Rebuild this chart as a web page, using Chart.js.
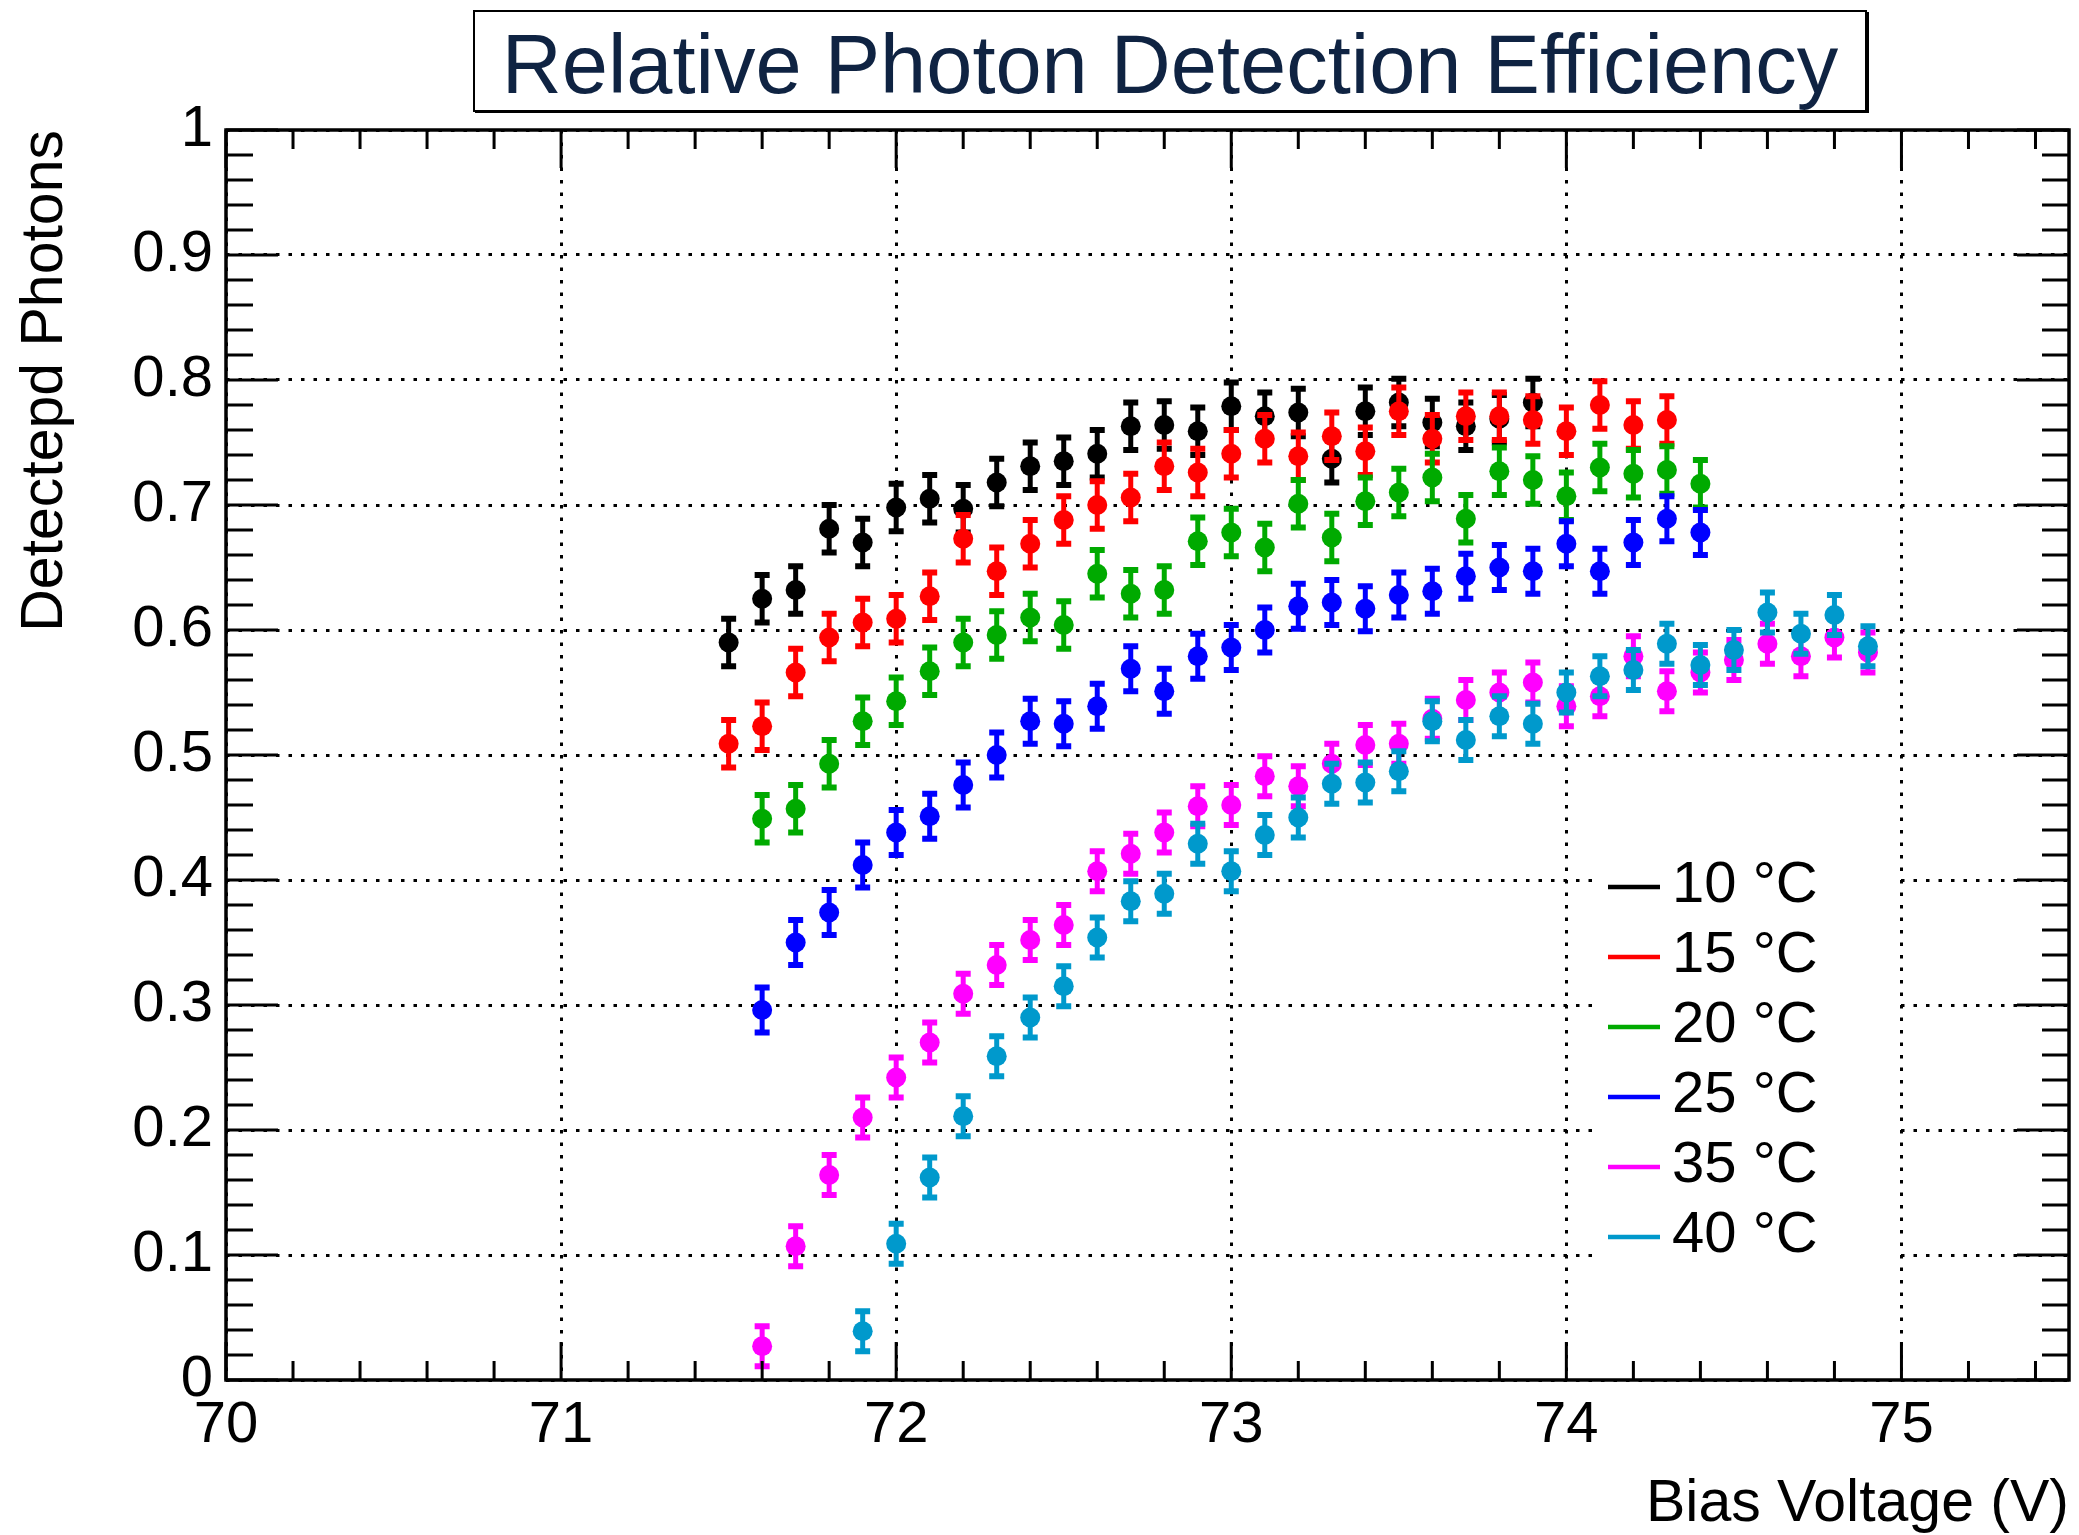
<!DOCTYPE html>
<html>
<head>
<meta charset="utf-8">
<title>Relative Photon Detection Efficiency</title>
<script src="https://cdn.jsdelivr.net/npm/chart.js@4.4.1/dist/chart.umd.min.js"></script>
<style>
    html, body { margin: 0; padding: 0; background: #ffffff; }
    #wrap { width: 2079px; height: 1535px; }
</style>
</head>
<body>
<div id="wrap"><canvas id="grafico" width="2079" height="1535"></canvas></div>
<script>
// tensões (V) de cada série
const tensao10 = [71.5, 71.6, 71.7, 71.8, 71.9, 72.0, 72.1, 72.2, 72.3, 72.4, 72.5, 72.6, 72.7, 72.8, 72.9, 73.0, 73.1, 73.2, 73.3, 73.4, 73.5, 73.6, 73.7, 73.8, 73.9];
const tensao15 = [71.5, 71.6, 71.7, 71.8, 71.9, 72.0, 72.1, 72.2, 72.3, 72.4, 72.5, 72.6, 72.7, 72.8, 72.9, 73.0, 73.1, 73.2, 73.3, 73.4, 73.5, 73.6, 73.7, 73.8, 73.9, 74.0, 74.1, 74.2, 74.3];
const tensao20 = [71.6, 71.7, 71.8, 71.9, 72.0, 72.1, 72.2, 72.3, 72.4, 72.5, 72.6, 72.7, 72.8, 72.9, 73.0, 73.1, 73.2, 73.3, 73.4, 73.5, 73.6, 73.7, 73.8, 73.9, 74.0, 74.1, 74.2, 74.3, 74.4];
const tensao25 = [71.6, 71.7, 71.8, 71.9, 72.0, 72.1, 72.2, 72.3, 72.4, 72.5, 72.6, 72.7, 72.8, 72.9, 73.0, 73.1, 73.2, 73.3, 73.4, 73.5, 73.6, 73.7, 73.8, 73.9, 74.0, 74.1, 74.2, 74.3, 74.4];
const tensao35 = [71.6, 71.7, 71.8, 71.9, 72.0, 72.1, 72.2, 72.3, 72.4, 72.5, 72.6, 72.7, 72.8, 72.9, 73.0, 73.1, 73.2, 73.3, 73.4, 73.5, 73.6, 73.7, 73.8, 73.9, 74.0, 74.1, 74.2, 74.3, 74.4, 74.5, 74.6, 74.7, 74.8, 74.9];
const tensao40 = [71.9, 72.0, 72.1, 72.2, 72.3, 72.4, 72.5, 72.6, 72.7, 72.8, 72.9, 73.0, 73.1, 73.2, 73.3, 73.4, 73.5, 73.6, 73.7, 73.8, 73.9, 74.0, 74.1, 74.2, 74.3, 74.4, 74.5, 74.6, 74.7, 74.8, 74.9];

// fótons detectados (relativo)
const fotons10 = [0.590, 0.625, 0.632, 0.681, 0.670, 0.698, 0.705, 0.697, 0.718, 0.731, 0.735, 0.741, 0.763, 0.764, 0.759, 0.779, 0.771, 0.774, 0.737, 0.775, 0.782, 0.766, 0.763, 0.769, 0.782];
const fotons15 = [0.509, 0.523, 0.566, 0.594, 0.606, 0.609, 0.627, 0.673, 0.647, 0.669, 0.688, 0.700, 0.706, 0.731, 0.726, 0.741, 0.753, 0.739, 0.755, 0.743, 0.775, 0.753, 0.771, 0.771, 0.768, 0.759, 0.780, 0.764, 0.768];
const fotons20 = [0.449, 0.457, 0.493, 0.527, 0.543, 0.567, 0.590, 0.596, 0.610, 0.604, 0.645, 0.629, 0.632, 0.671, 0.678, 0.666, 0.701, 0.674, 0.703, 0.710, 0.722, 0.689, 0.727, 0.720, 0.707, 0.730, 0.725, 0.728, 0.717];
const fotons25 = [0.296, 0.350, 0.374, 0.412, 0.438, 0.451, 0.476, 0.500, 0.527, 0.525, 0.539, 0.569, 0.551, 0.579, 0.586, 0.600, 0.619, 0.622, 0.617, 0.628, 0.631, 0.643, 0.650, 0.647, 0.669, 0.647, 0.670, 0.689, 0.678];
const fotons35 = [0.027, 0.107, 0.164, 0.210, 0.242, 0.270, 0.309, 0.332, 0.352, 0.364, 0.407, 0.421, 0.438, 0.459, 0.460, 0.483, 0.475, 0.493, 0.508, 0.509, 0.529, 0.544, 0.550, 0.558, 0.539, 0.547, 0.579, 0.551, 0.566, 0.576, 0.589, 0.579, 0.594, 0.582];
const fotons40 = [0.039, 0.109, 0.162, 0.211, 0.259, 0.290, 0.315, 0.354, 0.383, 0.389, 0.429, 0.407, 0.436, 0.450, 0.477, 0.478, 0.487, 0.527, 0.512, 0.531, 0.525, 0.550, 0.563, 0.568, 0.589, 0.572, 0.584, 0.614, 0.597, 0.612, 0.587];

const nomes = ['10 °C', '15 °C', '20 °C', '25 °C', '35 °C', '40 °C'];
const cores = ['#000000', '#ff0000', '#00aa00', '#0000ff', '#ff00ff', '#0099cc'];
const erros = [0.019, 0.019, 0.019, 0.018, 0.016, 0.016];

const ticksX = [70, 71, 72, 73, 74, 75];
const ticksY = [0, 0.1, 0.2, 0.3, 0.4, 0.5, 0.6, 0.7, 0.8, 0.9, 1];

const tensoes = [tensao10, tensao15, tensao20, tensao25, tensao35, tensao40];
const fotons = [fotons10, fotons15, fotons20, fotons25, fotons35, fotons40];

const fonte = '"Liberation Sans", Arial, Helvetica, sans-serif';

const datasets = nomes.map((nome, i) => ({
    label: nome,
    data: tensoes[i].map((v, j) => ({ x: v, y: fotons[i][j] })),
    backgroundColor: cores[i],
    borderColor: cores[i],
    borderWidth: 0,
    pointRadius: 10,
    pointHoverRadius: 10,
    showLine: false,
    order: nomes.length - i,
    erro: erros[i]
}));

// barras de erro, desenhadas antes dos pontos de cada série
const pluginErro = {
    id: 'barrasErro',
    beforeDatasetDraw(chart, args) {
        const ds = chart.data.datasets[args.index];
        const escalaY = chart.scales.y;
        const ctx = chart.ctx;
        ctx.save();
        ctx.strokeStyle = ds.borderColor;
        ctx.fillStyle = ds.borderColor;
        ctx.lineWidth = 5;
        args.meta.data.forEach((pt, j) => {
            const v = ds.data[j].y;
            const cima = escalaY.getPixelForValue(v + ds.erro);
            const baixo = escalaY.getPixelForValue(v - ds.erro);
            ctx.beginPath();
            ctx.moveTo(pt.x, cima);
            ctx.lineTo(pt.x, baixo);
            ctx.stroke();
            ctx.fillRect(pt.x - 7.5, cima - 3, 15, 6);
            ctx.fillRect(pt.x - 7.5, baixo - 3, 15, 6);
        });
        ctx.restore();
    }
};

// moldura e marcas dos eixos (estilo ROOT, para dentro)
const pluginMoldura = {
    id: 'moldura',
    afterDatasetsDraw(chart) {
        const { left, right, top, bottom } = chart.chartArea;
        const ex = chart.scales.x;
        const ey = chart.scales.y;
        const ctx = chart.ctx;
        ctx.save();
        ctx.strokeStyle = '#000';
        ctx.lineWidth = 3;
        ctx.beginPath();
        for (let k = 0; k <= 27; k++) {
            const px = ex.getPixelForValue(70 + k * 0.2);
            const t = k % 5 === 0 ? 38 : 19;
            ctx.moveTo(px, bottom);
            ctx.lineTo(px, bottom - t);
            ctx.moveTo(px, top);
            ctx.lineTo(px, top + t);
        }
        for (let k = 0; k <= 50; k++) {
            const py = ey.getPixelForValue(k * 0.02);
            const t = k % 5 === 0 ? 52 : 27;
            ctx.moveTo(left, py);
            ctx.lineTo(left + t, py);
            ctx.moveTo(right, py);
            ctx.lineTo(right - t, py);
        }
        ctx.stroke();
        ctx.lineWidth = 3.5;
        ctx.strokeRect(left, top, right - left, bottom - top);
        ctx.restore();
    }
};

const pluginLegenda = {
    id: 'legendaRoot',
    afterDatasetsDraw(chart) {
        const ctx = chart.ctx;
        ctx.save();
        ctx.fillStyle = '#ffffff';
        ctx.fillRect(1596, 850, 298, 420);
        ctx.font = '58px ' + fonte;
        ctx.textAlign = 'left';
        ctx.textBaseline = 'alphabetic';
        chart.data.datasets.forEach((ds, i) => {
            const y = 887 + i * 70;
            ctx.strokeStyle = ds.borderColor;
            ctx.lineWidth = 4.7;
            ctx.beginPath();
            ctx.moveTo(1608, y);
            ctx.lineTo(1660, y);
            ctx.stroke();
            ctx.fillStyle = '#000';
            ctx.fillText(ds.label, 1672, y + 15);
        });
        ctx.restore();
    }
};

const pluginTitulo = {
    id: 'tituloCaixa',
    afterDraw(chart) {
        const ctx = chart.ctx;
        ctx.save();
        ctx.fillStyle = '#ffffff';
        ctx.fillRect(473, 10, 1394, 102);
        ctx.fillStyle = '#000';
        ctx.fillRect(475, 110, 1394, 3);
        ctx.fillRect(1866, 12, 3, 101);
        ctx.strokeStyle = '#000';
        ctx.lineWidth = 2;
        ctx.strokeRect(474, 11, 1392, 100);
        ctx.fillStyle = '#0f2342';
        ctx.font = '83px ' + fonte;
        ctx.textAlign = 'center';
        ctx.textBaseline = 'alphabetic';
        ctx.fillText('Relative Photon Detection Efficiency', 1170, 93);
        ctx.restore();
    }
};

const grafico = new Chart(document.getElementById('grafico'), {
    type: 'scatter',
    data: { datasets: datasets },
    options: {
        responsive: false,
        animation: false,
        devicePixelRatio: 1,
        layout: { padding: { left: 0, right: 10, top: 130, bottom: 0 } },
        plugins: {
            legend: { display: false },
            tooltip: { enabled: false },
            title: { display: false }
        },
        scales: {
            x: {
                type: 'linear',
                min: 70,
                max: 75.5,
                afterBuildTicks: (escala) => { escala.ticks = ticksX.map(v => ({ value: v })); },
                afterFit: (escala) => { escala.height = 155; },
                grid: { color: '#000', lineWidth: 3, drawTicks: false },
                border: { display: false, dash: [3.5, 9] },
                ticks: {
                    color: '#000',
                    font: { family: fonte, size: 58 },
                    padding: 11,
                    maxRotation: 0,
                    autoSkip: false
                },
                title: {
                    display: true,
                    text: 'Bias Voltage (V)',
                    align: 'end',
                    color: '#000',
                    font: { family: fonte, size: 59 },
                    padding: { top: 0, bottom: -5 }
                }
            },
            y: {
                type: 'linear',
                min: 0,
                max: 1,
                afterBuildTicks: (escala) => { escala.ticks = ticksY.map(v => ({ value: v })); },
                afterFit: (escala) => { escala.width = 226; },
                grid: { color: '#000', lineWidth: 3, drawTicks: false },
                border: { display: false, dash: [3.5, 9] },
                ticks: {
                    color: '#000',
                    font: { family: fonte, size: 58 },
                    padding: 13,
                    autoSkip: false,
                    callback: (v) => String(Number(v.toFixed(1)))
                },
                title: {
                    display: true,
                    text: 'Detectepd Photons',
                    align: 'end',
                    color: '#000',
                    font: { family: fonte, size: 59 },
                    padding: { top: 10, bottom: 0 }
                }
            }
        }
    },
    plugins: [pluginErro, pluginMoldura, pluginLegenda, pluginTitulo]
});
</script>
</body>
</html>
